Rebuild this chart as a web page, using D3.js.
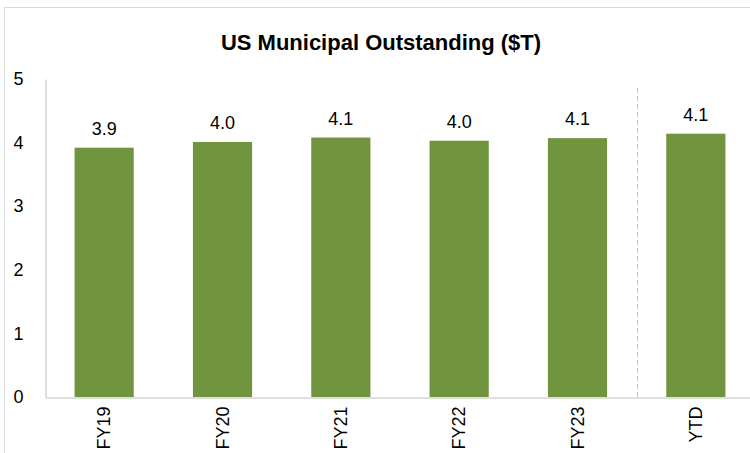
<!DOCTYPE html>
<html>
<head>
<meta charset="utf-8">
<script src="https://cdn.jsdelivr.net/npm/d3@7"></script>
<style>
  html, body { margin: 0; padding: 0; background: #fff; }
  svg { display: block; }
  text { font-family: "Liberation Sans", Arial, sans-serif; fill: #000; }
</style>
</head>
<body>
<svg id="chart" width="750" height="453"></svg>
<script>
const categories = ["FY19", "FY20", "FY21", "FY22", "FY23", "YTD"];
const values = [3.92, 4.01, 4.08, 4.03, 4.07, 4.14];
const yTicks = [0, 1, 2, 3, 4, 5];
const title = "US Municipal Outstanding ($T)";
const dividerBefore = "YTD";

const W = 750, H = 453;
const svg = d3.select("#chart");

// outer chart border
svg.append("rect")
  .attr("x", 4.5).attr("y", 7.5)
  .attr("width", 800).attr("height", 500)
  .attr("fill", "none").attr("stroke", "#d9d9d9").attr("stroke-width", 1);

const x = d3.scaleBand().domain(categories).range([45, 755]).paddingInner(0.5).paddingOuter(0.25);
const y = d3.scaleLinear().domain([0, 5]).range([397, 79]);

// title
svg.append("text")
  .attr("x", 381).attr("y", 50)
  .attr("text-anchor", "middle")
  .style("font-size", "22px").style("font-weight", "bold")
  .text(title);

// y axis
const yAxis = d3.axisLeft(y).tickValues(yTicks).tickSize(0).tickPadding(22).tickFormat(d3.format("d"));
const gy = svg.append("g").attr("transform", "translate(45.5,0)").call(yAxis);
gy.select(".domain").attr("stroke", "#bfbfbf");
gy.selectAll("text").style("font-size", "18px").style("font-family", "'Liberation Sans', Arial, sans-serif");

// divider dashed line
const divX = x(dividerBefore) - (x.step() - x.bandwidth()) / 2;
svg.append("line")
  .attr("x1", Math.round(divX) + 0.5).attr("x2", Math.round(divX) + 0.5)
  .attr("y1", 88).attr("y2", 397)
  .attr("stroke", "#c8c8c8").attr("stroke-width", 1)
  .attr("stroke-dasharray", "5,3");

// bars
svg.append("g").selectAll("rect")
  .data(categories)
  .join("rect")
  .attr("x", d => x(d))
  .attr("width", x.bandwidth())
  .attr("y", (d, i) => y(values[i]))
  .attr("height", (d, i) => y(0) - y(values[i]))
  .attr("fill", "#71953f");

// value labels
svg.append("g").selectAll("text")
  .data(categories)
  .join("text")
  .attr("x", d => x(d) + x.bandwidth() / 2)
  .attr("y", (d, i) => y(values[i]) - 13)
  .attr("text-anchor", "middle")
  .style("font-size", "18px")
  .text((d, i) => d3.format(".1f")(values[i]));

// x axis
const xAxis = d3.axisBottom(x).tickSize(0).tickPadding(0);
const gx = svg.append("g").attr("transform", "translate(0,397.5)").call(xAxis);
gx.select(".domain").attr("stroke", "#bfbfbf");
gx.selectAll("text")
  .style("font-size", "18px").style("font-family", "'Liberation Sans', Arial, sans-serif")
  .attr("text-anchor", "end")
  .attr("transform", "translate(0,9) rotate(-90)")
  .attr("x", 0).attr("y", 0).attr("dy", "0.35em");
</script>
</body>
</html>
